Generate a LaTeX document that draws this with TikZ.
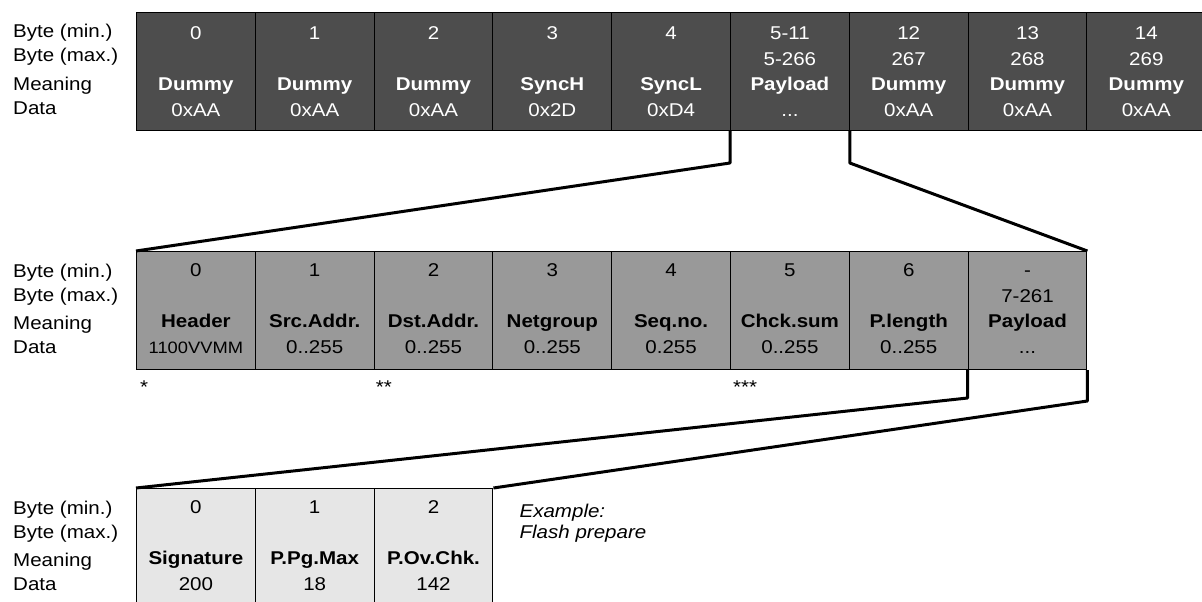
\documentclass[tikz,border=0pt]{standalone}
\usepackage{fontspec}
\setmainfont[FakeStretch=1.11]{Liberation Sans}
\usetikzlibrary{calc}
\definecolor{topgray}{HTML}{4D4D4D}
\definecolor{midgray}{HTML}{999999}
\definecolor{lowgray}{HTML}{E6E6E6}

\begin{document}
\begin{tikzpicture}[x=1pt,y=-1pt,
  every node/.style={font=\fontsize{18.5}{25.5}\selectfont,inner sep=0pt},
  cell/.style={draw=black,line width=1pt,minimum width=118.8pt,minimum height=118pt,anchor=north west},
  celltext/.style={align=center,anchor=base},
  link/.style={line width=3pt,line join=round}]
  \useasboundingbox (0,0) rectangle (1202,602);
  % frame bytes
  \foreach \i/\lo/\hi/\mean/\dat in {0/0//Dummy/0xAA,1/1//Dummy/0xAA,2/2//Dummy/0xAA,
      3/3//SyncH/0x2D,4/4//SyncL/0xD4,5/5-11/5-266/Payload/{...},
      6/12/267/Dummy/0xAA,7/13/268/Dummy/0xAA,8/14/269/Dummy/0xAA}{
    \node[cell,fill=topgray] (t\i) at (136+\i*118.8,12) {};
    \node[celltext,text=white] (tt\i) at ($(t\i.north)+(0,104)$) {\lo\\\hi\\\textbf{\mean}\\\dat};
  }
  % packet bytes
  \foreach \i/\lo/\hi/\mean/\dat in {0/0//Header/{\fontsize{16.5}{25.5}\selectfont 1100VVMM},
      1/1//Src.Addr./0..255,2/2//Dst.Addr./0..255,3/3//Netgroup/0..255,4/4//Seq.no./0.255,
      5/5//Chck.sum/0..255,6/6//P.length/0..255,7/-/7-261/Payload/{...}}{
    \node[cell,fill=midgray] (m\i) at (136+\i*118.8,251) {};
    \node[celltext] (mt\i) at ($(m\i.north)+(0,102)$) {\lo\\\hi\\\textbf{\mean}\\\dat};
  }
  % payload bytes
  \foreach \i/\lo/\hi/\mean/\dat in {0/0//Signature/200,1/1//P.Pg.Max/18,2/2//P.Ov.Chk./142}{
    \node[cell,fill=lowgray] (b\i) at (136+\i*118.8,488) {};
    \node[celltext] (bt\i) at ($(b\i.north)+(0,102)$) {\lo\\\hi\\\textbf{\mean}\\\dat};
  }
  % row labels
  \foreach \row in {t,m,b}{
    \foreach \txt/\dy [count=\k] in {Byte (min.)/26,Byte (max.)/50,Meaning/78.5,Data/102}{
      \node[anchor=base west] (\row lab\k) at ($(\row0.north west)+(-123,\dy)$) {\txt};
    }
  }
  \node[anchor=base west] (star1) at ($(m0.south west)+(4,23)$) {*};
  \node[anchor=base west] (star2) at ($(m2.south west)+(2,23)$) {**};
  \node[anchor=base west] (star3) at ($(m5.south west)+(3,23)$) {***};
  \node[anchor=base west,align=left,font=\itshape\fontsize{18.5}{21}\selectfont] (example)
    at ($(b2.north east)+(26,50)$) {Example:\\Flash prepare};
  % zoom lines
  \draw[link] (t5.south west) -- ++(0,32) -- (m0.north west);
  \draw[link] (t5.south east) -- ++(0,32) -- (m7.north east);
  \draw[link] (m7.south west) -- ++(0,28) -- (b0.north west);
  \draw[link] (m7.south east) -- ++(0,31) -- (b2.north east);
\end{tikzpicture}
\end{document}
